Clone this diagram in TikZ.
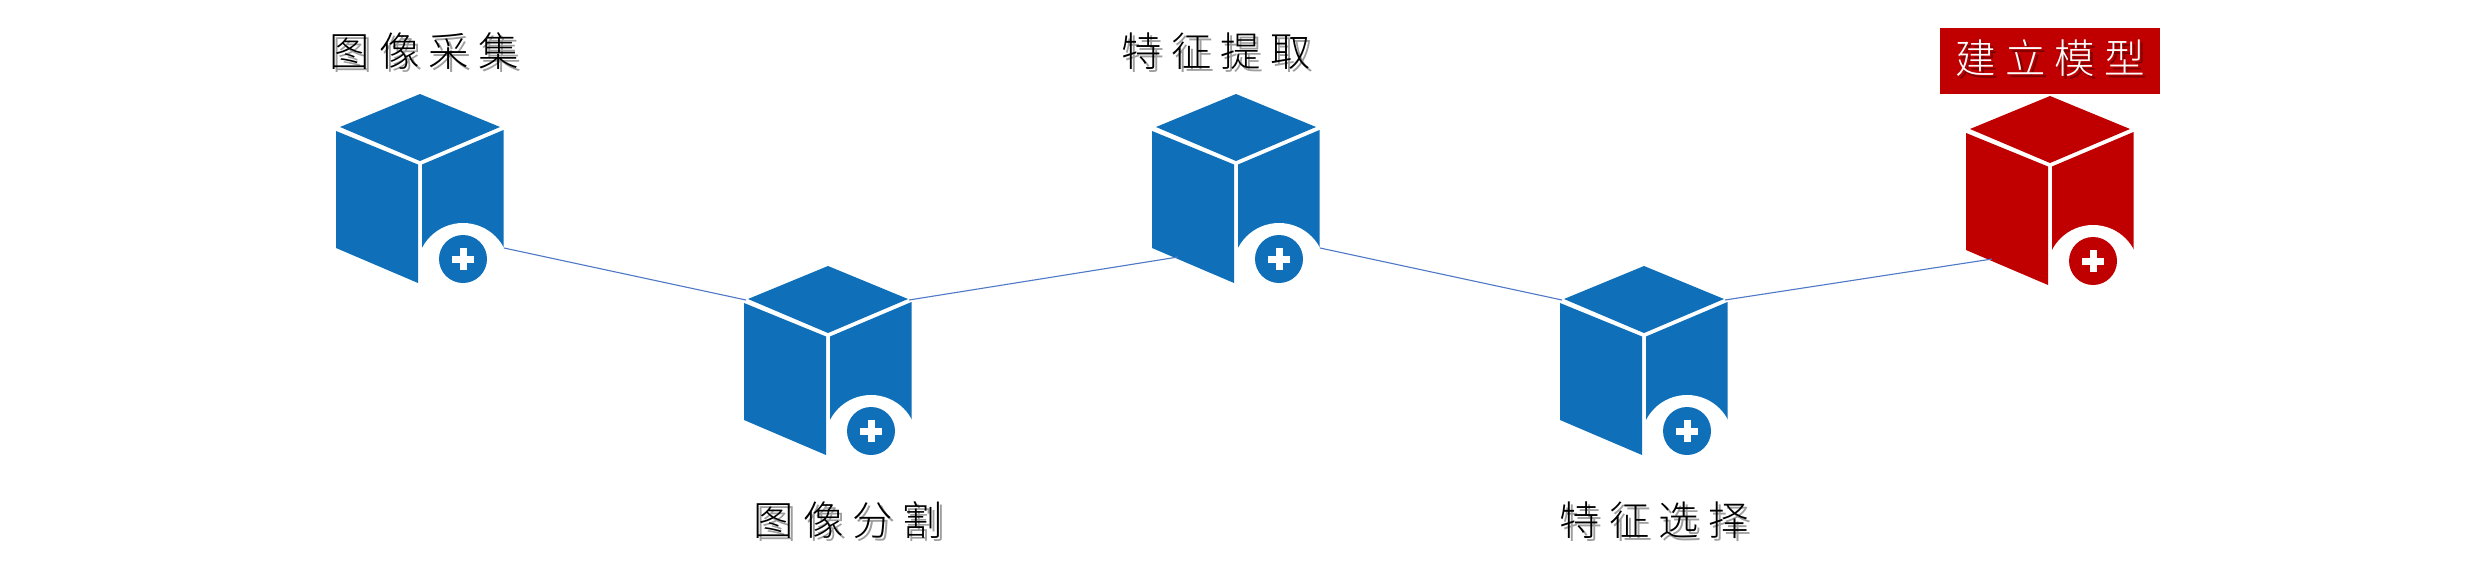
\documentclass[tikz,border=0pt]{standalone}
\usepackage{fontspec}
\newfontfamily\cjk[LetterSpace=22.5]{Noto Sans CJK SC Light}
\definecolor{cubeblue}{HTML}{0F70B9}
\definecolor{cubered}{HTML}{C00000}
\definecolor{linkblue}{HTML}{4F78C6}
\newcommand{\cubeat}[4]{% name, apex x, apex y, colour
 \begin{scope}[shift={(#2,#3)}]
  \fill[#4] (0,0) -- (80,33) -- (0,67) -- (-80,33) -- cycle;
  \fill[#4] (-84,37) -- (-2,70.5) -- (-2,189) -- (-84,154) -- cycle;
  \begin{scope}
   \clip (1,30) rectangle (90,200);
   \fill[#4] (2,70.5) -- (83.5,36) -- (83.5,154) -- (2,189) -- cycle;
   \fill[white] (43,175) circle (46);
  \end{scope}
  \fill[#4] (43,165) circle (24);
  \fill[white] (32,161.5) rectangle (54,168.5);
  \fill[white] (39.5,154) rectangle (46.5,176);
  \node[cubebox] (#1) at (0,95) {};
 \end{scope}}
\newcommand{\shadowtext}[2][black!38]{\leavevmode\rlap{\raisebox{-1.5pt}{\hspace{1.5pt}\textcolor{#1}{#2}}}#2}
\tikzset{
 x=0.5pt,y=-0.5pt,
 cubebox/.style={minimum width=84pt,minimum height=95pt,inner sep=0pt,outer sep=0pt},
 link/.style={draw=linkblue,line width=0.55pt},
 caption/.style={font=\cjk\fontsize{20.2}{20.2}\selectfont,text=black,inner sep=0pt},
}
\begin{document}
\begin{tikzpicture}
\useasboundingbox (0,0) rectangle (2471,578);
\fill[white] (0,0) rectangle (2471,578);
\coordinate (o1) at (504,248);
\coordinate (i2) at (746,300);
\coordinate (o2) at (909,300);
\coordinate (i3) at (1178,257);
\coordinate (o3) at (1320,248);
\coordinate (i4) at (1562,300);
\coordinate (o4) at (1725,300);
\coordinate (i5) at (1992,259);
\cubeat{c1}{420}{94}{cubeblue}
\cubeat{c2}{828}{266}{cubeblue}
\cubeat{c3}{1236}{94}{cubeblue}
\cubeat{c4}{1644}{266}{cubeblue}
\cubeat{c5}{2050}{96}{cubered}
\draw[link] (o1) -- (i2);
\draw[link] (o2) -- (i3);
\draw[link] (o3) -- (i4);
\draw[link] (o4) -- (i5);
\fill[cubered] (1940,28) rectangle (2160,94);
\node[caption] (t1) at (424,53) {\shadowtext{图像采集}};
\node[caption] (t2) at (848,522) {\shadowtext{图像分割}};
\node[caption] (t3) at (1216,53) {\shadowtext{特征提取}};
\node[caption] (t4) at (1654,522) {\shadowtext{特征选择}};
\node[caption,text=white] (t5) at (2050,60) {\shadowtext[red!50!black]{建立模型}};
\end{tikzpicture}
\end{document}
